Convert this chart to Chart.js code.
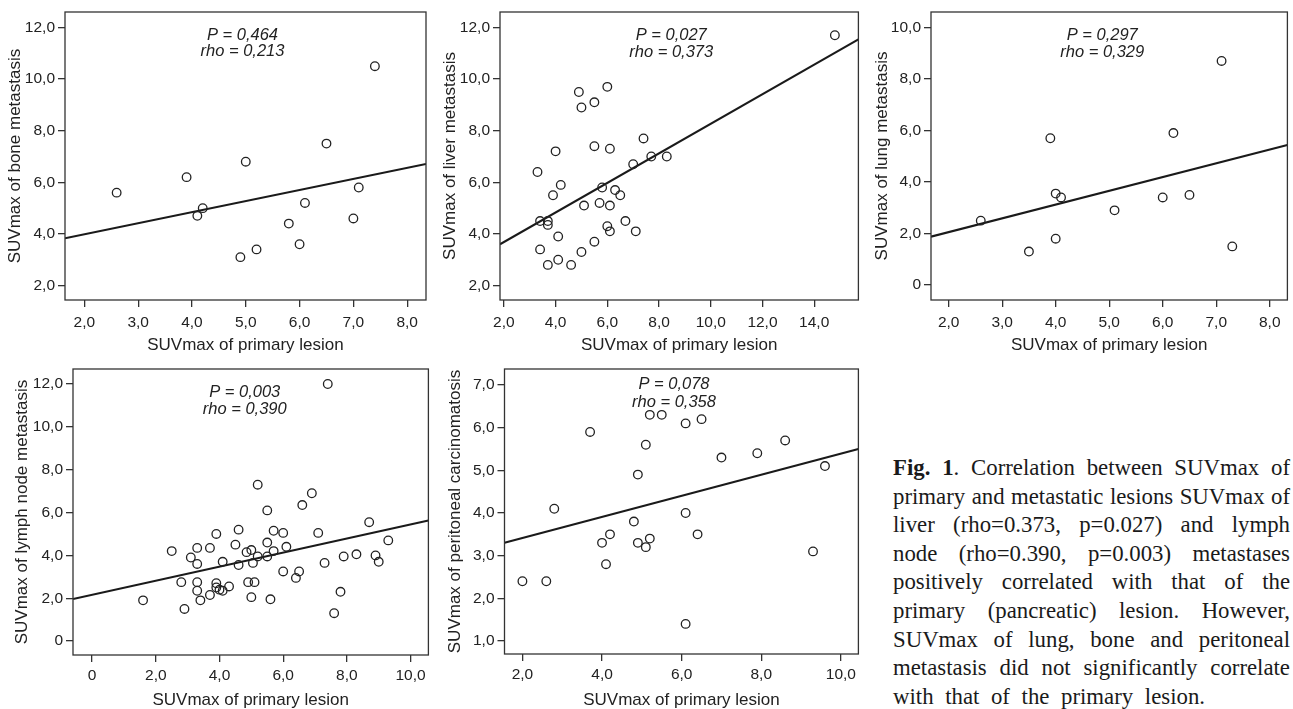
<!DOCTYPE html>
<html>
<head>
<meta charset="utf-8">
<title>SUVmax of primary vs metastatic lesions</title>
<script src="https://cdn.jsdelivr.net/npm/chart.js@4.4.1/dist/chart.umd.min.js"></script>
<style>
html, body { margin: 0; padding: 0; background: #fff; overflow: hidden; }
#page { position: relative; width: 1293px; height: 709px; overflow: hidden; }
canvas { position: absolute; }
#caption { position: absolute; left: 893px; top: 454px; font-family: "Liberation Serif", "Times New Roman", serif;
           font-size: 22.8px; line-height: 28.6px; color: #1a1a1a; }
#caption div { width: 397px; white-space: nowrap; text-align: justify; text-align-last: justify; }
#caption div.last { width: 312px; }
</style>
</head>
<body>
<div id="page">
  <canvas id="bone" width="432" height="360" style="left:0;top:0"></canvas>
  <canvas id="liver" width="432" height="360" style="left:432px;top:0"></canvas>
  <canvas id="lung" width="429" height="360" style="left:864px;top:0"></canvas>
  <canvas id="node" width="434" height="360" style="left:0;top:355px"></canvas>
  <canvas id="peri" width="430" height="360" style="left:434px;top:355px"></canvas>
  <div id="caption">
    <div><b>Fig. 1</b>. Correlation between SUVmax of</div>
    <div>primary and metastatic lesions SUVmax of</div>
    <div>liver (rho=0.373, p=0.027) and lymph</div>
    <div>node (rho=0.390, p=0.003) metastases</div>
    <div>positively correlated with that of the</div>
    <div>primary (pancreatic) lesion. However,</div>
    <div>SUVmax of lung, bone and peritoneal</div>
    <div>metastasis did not significantly correlate</div>
    <div class="last">with that of the primary lesion.</div>
  </div>
</div>
<script>
// bone metastasis
var boneX = [2.6, 3.9, 4.1, 4.2, 4.9, 5.0, 5.2, 5.8, 6.0, 6.1, 6.5, 7.0, 7.1, 7.4];
var boneY = [5.6, 6.2, 4.7, 5.0, 3.1, 6.8, 3.4, 4.4, 3.6, 5.2, 7.5, 4.6, 5.8, 10.5];
var boneFitX = [1.64, 8.35];
var boneFitY = [3.83, 6.71];
var boneXTicks = [2, 3, 4, 5, 6, 7, 8];
var boneYTicks = [2, 4, 6, 8, 10, 12];
var boneXRange = [1.64, 8.35];
var boneYRange = [1.44, 12.6];

// liver metastasis
var liverX = [14.8, 4.9, 6.0, 5.0, 5.5, 7.4, 5.5, 6.1, 4.0, 7.7, 8.3, 7.0, 3.3, 4.2, 3.9, 5.8, 6.3, 6.5,
              5.1, 5.7, 6.1, 3.4, 3.7, 3.7, 6.7, 6.0, 6.1, 7.1, 4.1, 3.4, 5.5, 5.0, 4.1, 3.7, 4.6];
var liverY = [11.7, 9.5, 9.7, 8.9, 9.1, 7.7, 7.4, 7.3, 7.2, 7.0, 7.0, 6.7, 6.4, 5.9, 5.5, 5.8, 5.7, 5.5,
              5.1, 5.2, 5.1, 4.5, 4.5, 4.35, 4.5, 4.3, 4.1, 4.1, 3.9, 3.4, 3.7, 3.3, 3.0, 2.8, 2.8];
var liverFitX = [1.85, 15.71];
var liverFitY = [3.60, 11.54];
var liverXTicks = [2, 4, 6, 8, 10, 12, 14];
var liverYTicks = [2, 4, 6, 8, 10, 12];
var liverXRange = [1.85, 15.71];
var liverYRange = [1.44, 12.6];

// lung metastasis
var lungX = [2.6, 3.5, 3.9, 4.0, 4.1, 4.0, 5.1, 6.0, 6.2, 6.5, 7.1, 7.3];
var lungY = [2.5, 1.3, 5.7, 3.55, 3.4, 1.8, 2.9, 3.4, 5.9, 3.5, 8.7, 1.5];
var lungFitX = [1.67, 8.33];
var lungFitY = [1.88, 5.44];
var lungXTicks = [2, 3, 4, 5, 6, 7, 8];
var lungYTicks = [0, 2, 4, 6, 8, 10];
var lungXRange = [1.67, 8.33];
var lungYRange = [-0.58, 10.6];

// lymph node metastasis
var nodeX = [1.6, 2.5, 2.8, 2.9, 3.1, 3.3, 3.3, 3.3, 3.3, 3.4, 3.7, 3.7, 3.9, 3.9, 3.9, 4.0, 4.1, 4.1,
             4.3, 4.5, 4.6, 4.6, 4.85, 5.0, 4.9, 5.0, 5.05, 5.1, 5.2, 5.2, 5.5, 5.5, 5.5, 5.7, 5.7, 5.6,
             6.0, 6.0, 6.1, 6.4, 6.5, 6.6, 6.9, 7.1, 7.3, 7.4, 7.6, 7.8, 7.9, 8.3, 8.7, 8.9, 9.0, 9.3];
var nodeY = [1.9, 4.2, 2.75, 1.5, 3.9, 4.35, 3.6, 2.75, 2.35, 1.9, 4.35, 2.15, 5.0, 2.7, 2.5, 2.4, 2.35, 3.7,
             2.55, 4.5, 5.2, 3.55, 4.15, 4.25, 2.75, 2.05, 3.65, 2.75, 7.3, 3.95, 4.6, 3.95, 6.1, 5.15, 4.2, 1.95,
             5.05, 3.25, 4.4, 2.95, 3.25, 6.35, 6.9, 5.05, 3.65, 12.0, 1.3, 2.3, 3.95, 4.05, 5.55, 4.0, 3.7, 4.7];
var nodeFitX = [-0.6, 10.56];
var nodeFitY = [1.96, 5.63];
var nodeXTicks = [0, 2, 4, 6, 8, 10];
var nodeYTicks = [0, 2, 4, 6, 8, 10, 12];
var nodeXRange = [-0.6, 10.56];
var nodeYRange = [-0.65, 12.7];

// peritoneal carcinomatosis
var periX = [2.0, 2.6, 2.8, 3.7, 4.0, 4.1, 4.2, 4.8, 4.9, 4.9, 5.1, 5.2, 5.1, 5.2, 5.5, 6.1, 6.1, 6.1,
             6.4, 6.5, 7.0, 7.9, 8.6, 9.3, 9.6];
var periY = [2.4, 2.4, 4.1, 5.9, 3.3, 2.8, 3.5, 3.8, 4.9, 3.3, 3.2, 3.4, 5.6, 6.3, 6.3, 6.1, 4.0, 1.4,
             3.5, 6.2, 5.3, 5.4, 5.7, 3.1, 5.1];
var periFitX = [1.55, 10.44];
var periFitY = [3.30, 5.50];
var periXTicks = [2, 4, 6, 8, 10];
var periYTicks = [1, 2, 3, 4, 5, 6, 7];
var periXRange = [1.55, 10.44];
var periYRange = [0.695, 7.375];

var pValues = ['0,464', '0,027', '0,297', '0,003', '0,078'];
var rhoValues = ['0,213', '0,373', '0,329', '0,390', '0,358'];

var FONT = '"Liberation Sans", Arial, sans-serif';
var INK = '#222';

function tickText(v) {
    if (v === 0) return '0';
    return v.toFixed(1).replace('.', ',');
}

function toPoints(xs, ys) {
    var pts = [];
    for (var i = 0; i < xs.length; i++) {
        pts.push({x: xs[i], y: ys[i]});
    }
    return pts;
}

// box round the plot area
var framePlugin = {
    id: 'frame',
    afterDatasetsDraw: function(chart) {
        var a = chart.chartArea, ctx = chart.ctx;
        ctx.save();
        ctx.strokeStyle = '#333';
        ctx.lineWidth = 1.3;
        ctx.strokeRect(a.left, a.top, a.right - a.left, a.bottom - a.top);
        ctx.restore();
    }
};

// P / rho note inside the plot
var notePlugin = {
    id: 'note',
    afterDraw: function(chart, args, opts) {
        var a = chart.chartArea, ctx = chart.ctx;
        var cx = (a.left + a.right) / 2 + opts.dx;
        ctx.save();
        ctx.font = 'italic 16.5px ' + FONT;
        ctx.fillStyle = INK;
        ctx.textAlign = 'center';
        ctx.textBaseline = 'alphabetic';
        for (var i = 0; i < opts.lines.length; i++) {
            ctx.fillText(opts.lines[i], cx, a.top + opts.baselines[i]);
        }
        ctx.restore();
    }
};

function drawPanel(id, xs, ys, fitX, fitY, xTicks, yTicks, xRange, yRange, yTitle, p, rho, lay) {
    var ctx = document.getElementById(id).getContext('2d');
    var gridOpts = {display: true, drawOnChartArea: false, drawTicks: true, tickLength: 7, color: '#333', lineWidth: 1.3};
    return new Chart(ctx, {
        type: 'scatter',
        data: {
            datasets: [
                {
                    data: toPoints(xs, ys),
                    pointStyle: 'circle',
                    pointRadius: 4.3,
                    pointBorderWidth: 1.3,
                    pointBorderColor: INK,
                    pointBackgroundColor: 'rgba(0,0,0,0)'
                },
                {
                    data: toPoints(fitX, fitY),
                    showLine: true,
                    pointRadius: 0,
                    borderWidth: 2.1,
                    borderColor: '#1a1a1a'
                }
            ]
        },
        options: {
            responsive: false,
            animation: false,
            layout: {padding: {left: 0, top: lay.top, right: lay.right, bottom: 0}},
            scales: {
                x: {
                    type: 'linear',
                    min: xRange[0],
                    max: xRange[1],
                    afterBuildTicks: function(scale) {
                        scale.ticks = xTicks.map(function(v) { return {value: v}; });
                    },
                    afterFit: function(scale) { scale.height = lay.xAxisH; },
                    ticks: {color: INK, font: {family: FONT, size: 15.5}, padding: lay.xTickPad, maxRotation: 0,
                            callback: function(v) { return tickText(v); }},
                    grid: gridOpts,
                    border: {display: false},
                    title: {display: true, text: 'SUVmax of primary lesion', color: INK,
                            font: {family: FONT, size: 17}, padding: {top: 0, bottom: 4.8}}
                },
                y: {
                    type: 'linear',
                    min: yRange[0],
                    max: yRange[1],
                    afterBuildTicks: function(scale) {
                        scale.ticks = yTicks.map(function(v) { return {value: v}; });
                    },
                    afterFit: function(scale) { scale.width = lay.yAxisW; },
                    ticks: {color: INK, font: {family: FONT, size: 15.5, lineHeight: 1}, padding: 3,
                            callback: function(v) { return tickText(v); }},
                    grid: gridOpts,
                    border: {display: false},
                    title: {display: true, text: yTitle, color: INK,
                            font: {family: FONT, size: 17}, padding: {top: lay.yTitlePad, bottom: 0}}
                }
            },
            plugins: {
                legend: {display: false},
                tooltip: {enabled: false},
                note: {lines: ['P = ' + p, 'rho = ' + rho], dx: lay.noteDx, baselines: lay.noteBase}
            }
        },
        plugins: [framePlugin, notePlugin]
    });
}

drawPanel('bone', boneX, boneY, boneFitX, boneFitY, boneXTicks, boneYTicks, boneXRange, boneYRange,
    'SUVmax of bone metastasis', pValues[0], rhoValues[0],
    {top: 12, right: 6, yAxisW: 65, xAxisH: 60, xTickPad: 6, yTitlePad: 4.8, noteDx: -3, noteBase: [27.5, 44]});

drawPanel('liver', liverX, liverY, liverFitX, liverFitY, liverXTicks, liverYTicks, liverXRange, liverYRange,
    'SUVmax of liver metastasis', pValues[1], rhoValues[1],
    {top: 12, right: 3.5, yAxisW: 68, xAxisH: 60, xTickPad: 6, yTitlePad: 7.8, noteDx: -8, noteBase: [27.5, 44.5]});

drawPanel('lung', lungX, lungY, lungFitX, lungFitY, lungXTicks, lungYTicks, lungXRange, lungYRange,
    'SUVmax of lung metastasis', pValues[2], rhoValues[2],
    {top: 12, right: 2, yAxisW: 67, xAxisH: 60, xTickPad: 6, yTitlePad: 7.8, noteDx: -7, noteBase: [27.5, 44.5]});

drawPanel('node', nodeX, nodeY, nodeFitX, nodeFitY, nodeXTicks, nodeYTicks, nodeXRange, nodeYRange,
    'SUVmax of lymph node metastasis', pValues[3], rhoValues[3],
    {top: 14, right: 3.5, yAxisW: 73, xAxisH: 60, xTickPad: 4, yTitlePad: 11.8, noteDx: -6, noteBase: [27.5, 45]});

drawPanel('peri', periX, periY, periFitX, periFitY, periXTicks, periYTicks, periXRange, periYRange,
    'SUVmax of peritoneal carcinomatosis', pValues[4], rhoValues[4],
    {top: 14, right: 2.5, yAxisW: 70.5, xAxisH: 61, xTickPad: 4, yTitlePad: 10.8, noteDx: -7.5, noteBase: [20, 37.5]});
</script>
</body>
</html>
